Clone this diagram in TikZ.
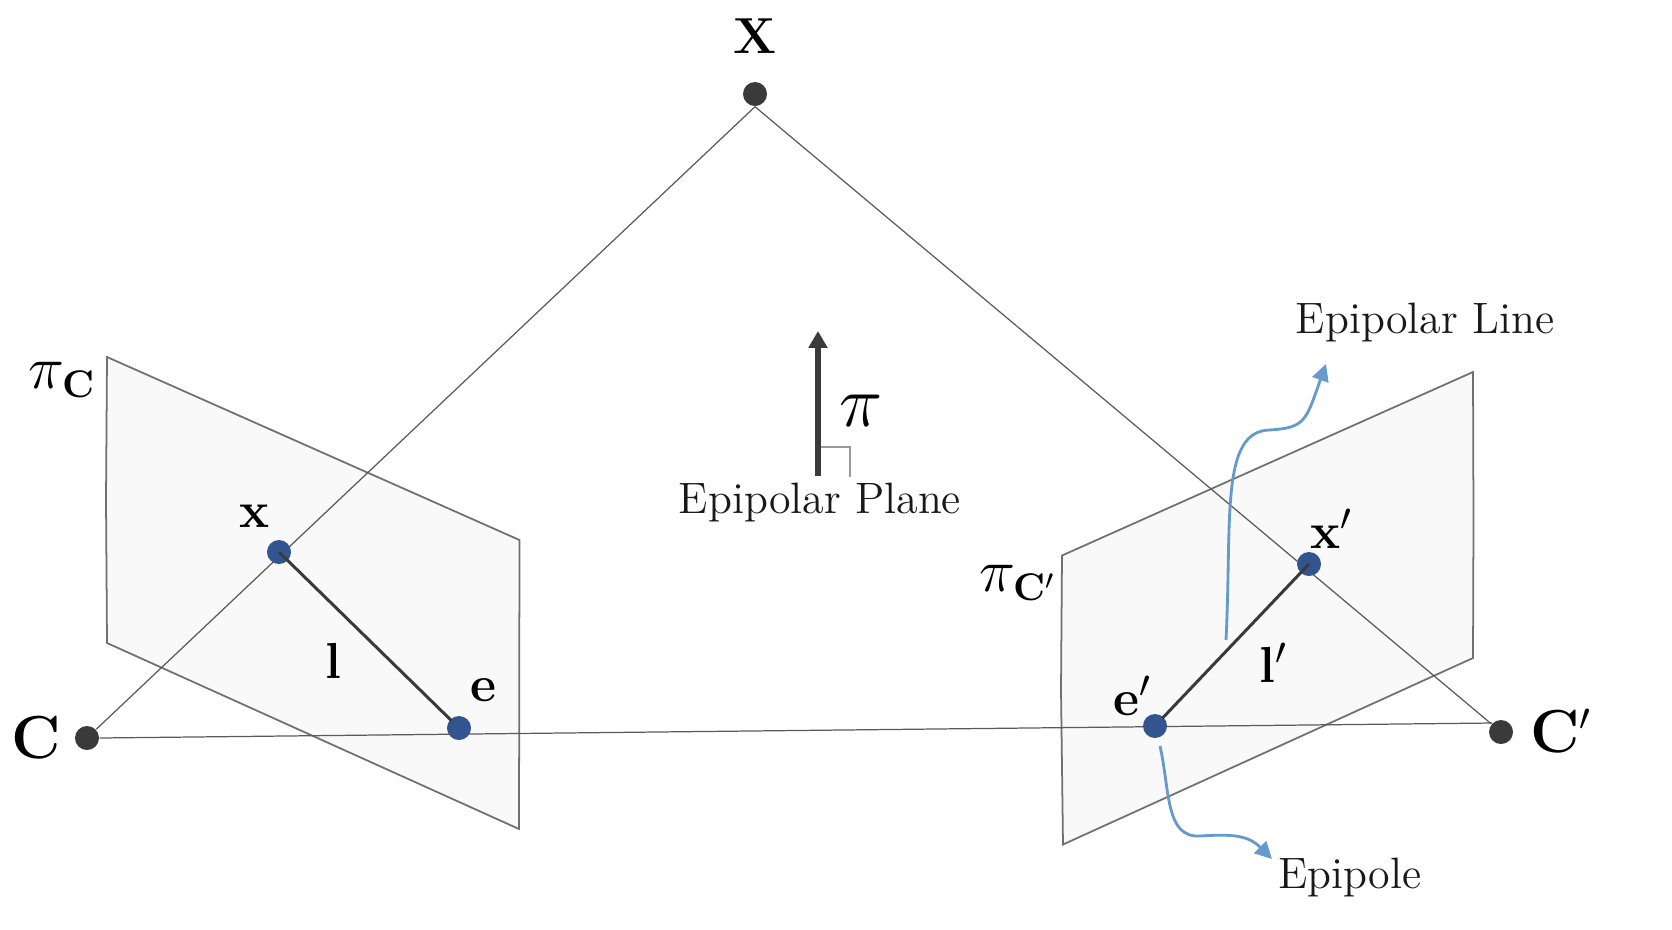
\documentclass[tikz,border=0pt]{standalone}
\usepackage{amsmath}
\usetikzlibrary{arrows.meta,backgrounds}
\definecolor{dotgray}{HTML}{3A3A3A}
\definecolor{dotblue}{HTML}{33558F}
\definecolor{noteblue}{HTML}{6699CC}
\definecolor{planefill}{HTML}{F9F9F9}
\definecolor{planeedge}{HTML}{707070}
\tikzset{
  campoint/.style={circle,fill=dotgray,minimum size=0.24cm,inner sep=0pt},
  imgpoint/.style={circle,fill=dotblue,minimum size=0.24cm,inner sep=0pt},
  plane/.style={draw=planeedge,fill=planefill,line width=0.5pt},
  ray/.style={draw=planeedge!80!black,line width=0.35pt},
  epiline/.style={draw=dotgray,line width=0.85pt,shorten >=3pt},
  note/.style={draw=noteblue,line width=0.8pt,-{Triangle[length=4.8pt,width=4.8pt]}},
  bigsym/.style={font=\fontsize{16}{18}\selectfont},
  topsym/.style={font=\fontsize{15}{17}\selectfont},
  midsym/.style={font=\fontsize{15.3}{17}\selectfont},
  subsym/.style={font=\fontsize{16}{18}\selectfont},
  normsym/.style={font=\fontsize{20}{22}\selectfont},
  caption/.style={font=\fontsize{12.5}{15}\selectfont,text=black!90}
}
\begin{document}
\begin{tikzpicture}[x=0.01cm,y=-0.01cm]
\useasboundingbox (0,0) rectangle (1672,930);

% Points
\node[campoint] (X) at (755,94) {};
\node[campoint] (C) at (87,738) {};
\node[campoint] (Cp) at (1501,732) {};
\node[imgpoint] (x) at (279,552) {};
\node[imgpoint] (e) at (459,728) {};
\node[imgpoint] (xp) at (1309,564) {};
\node[imgpoint] (ep) at (1155,726) {};

% Image planes and rays
\begin{scope}[on background layer]
\draw[plane] (107,357) -- (519.5,540) -- (519,829) -- (107,643) -- (106,500) -- cycle;
\draw[plane] (1062,555.5) -- (1473,372) -- (1473.5,520) -- (1473,658) -- (1063,844.5) -- (1061,690) -- cycle;
\draw[ray] (X.south) -- (C);
\draw[ray] (X.south) -- (Cp);
\draw[ray] (C.east) -- (Cp.north west);
\end{scope}

% Epipolar lines
\draw[epiline] (x.center) -- (e.center);
\draw[epiline] (xp.center) -- (ep.center);

% Plane normal
\coordinate (nbase) at (818,476);
\coordinate (ntip) at (818,331);
\coordinate (cbase) at (850,477);
\coordinate (cnorm) at (821,447);
\draw[draw=dotgray,line width=1.6pt,-{Triangle[length=4.8pt,width=5.2pt]}] (nbase) -- (ntip);
\draw[draw=gray!80,line width=0.4pt] (cnorm) -| (cbase);

% Annotations
\coordinate (linestart) at (1226,640);
\coordinate (linemid) at (1269,430);
\coordinate (lineend) at (1326,364);
\coordinate (polestart) at (1160,746);
\coordinate (polemid) at (1200,836);
\coordinate (poleend) at (1272,859);
\draw[note] (linestart) .. controls (1232,520) and (1220,432) .. (linemid) .. controls (1306,428) and (1306,420) .. (lineend);
\draw[note] (polestart) .. controls (1170,790) and (1165,838) .. (polemid) .. controls (1232,834) and (1248,835) .. (poleend);

% Labels
\node[topsym] (Xlab) at (755,36) {$\mathbf{X}$};
\node[bigsym] (Clab) at (36,738) {$\mathbf{C}$};
\node[bigsym] (Cplab) at (1561,731) {$\mathbf{C}'$};
\node[midsym] (xlab) at (255,516) {$\mathbf{x}$};
\node[midsym] (elab) at (483,690) {$\mathbf{e}$};
\node[midsym] (llab) at (333,661) {$\mathbf{l}$};
\node[midsym] (xplab) at (1332,529) {$\mathbf{x}'$};
\node[midsym] (eplab) at (1133,696) {$\mathbf{e}'$};
\node[midsym] (lplab) at (1274,663) {$\mathbf{l}'$};
\node[subsym] (pilab) at (62,380) {$\pi_{\mathbf{C}}$};
\node[subsym] (piplab) at (1018,583) {$\pi_{\mathbf{C}'}$};
\node[normsym] (pimain) at (861,411) {$\pi$};
\node[caption] (planelab) at (820,503) {Epipolar Plane};
\node[caption] (linelab) at (1425,323) {Epipolar Line};
\node[caption] (polelab) at (1350,877) {Epipole};
\end{tikzpicture}
\end{document}
